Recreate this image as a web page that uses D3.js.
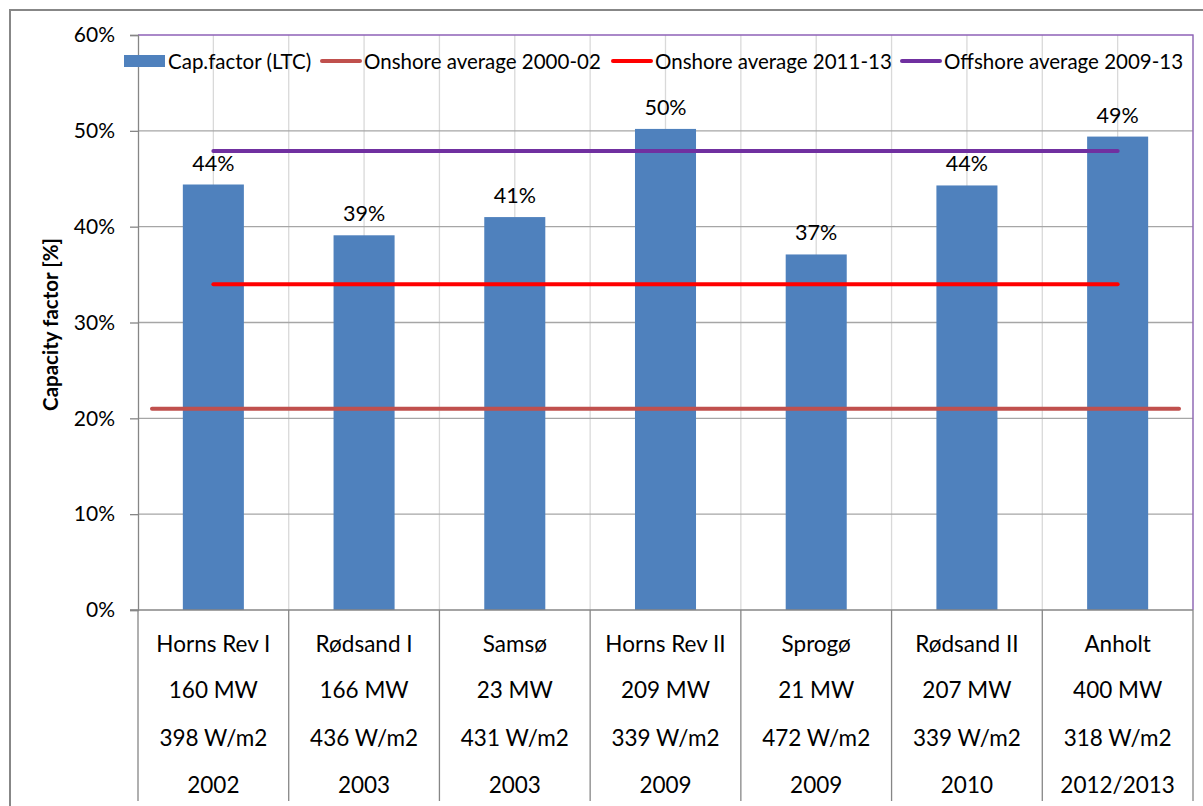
<!DOCTYPE html>
<html>
<head>
<meta charset="utf-8">
<script src="https://cdn.jsdelivr.net/npm/d3@7"></script>
<style>
  html, body { margin: 0; padding: 0; background: #ffffff; }
  svg { display: block; font-family: Lato, "Open Sans", sans-serif; }
</style>
</head>
<body>
<svg id="chart" width="1203" height="806"></svg>
<script>
// Danish offshore wind farms: long-term corrected capacity factor
const sites = ["Horns Rev I", "Rødsand I", "Samsø", "Horns Rev II", "Sprogø", "Rødsand II", "Anholt"];
const capacityLabels = ["160 MW", "166 MW", "23 MW", "209 MW", "21 MW", "207 MW", "400 MW"];
const densityLabels = ["398 W/m2", "436 W/m2", "431 W/m2", "339 W/m2", "472 W/m2", "339 W/m2", "318 W/m2"];
const yearLabels = ["2002", "2003", "2003", "2009", "2009", "2010", "2012/2013"];

const capFactor = [0.444, 0.391, 0.410, 0.502, 0.371, 0.443, 0.494];
const onshoreAvg2011 = [0.34, 0.34, 0.34, 0.34, 0.34, 0.34, 0.34];
const offshoreAvg2009 = [0.479, 0.479, 0.479, 0.479, 0.479, 0.479, 0.479];
const onshoreAvg2000 = [0.21, 0.21];   // drawn on the secondary (full-width) axis

const yTicks = [0, 0.1, 0.2, 0.3, 0.4, 0.5, 0.6];

const legendItems = [
  { name: "Cap.factor (LTC)", type: "bar", color: "#4f81bd" },
  { name: "Onshore average 2000-02", type: "line", color: "#c0504d" },
  { name: "Onshore average 2011-13", type: "line", color: "#ff0000" },
  { name: "Offshore average 2009-13", type: "line", color: "#7030a0" }
];

const svg = d3.select("#chart");
const plot = { left: 138, right: 1193, top: 35, bottom: 610 };

// outer chart frame
svg.append("rect")
  .attr("x", 10).attr("y", 10)
  .attr("width", 1210).attr("height", 810)
  .attr("fill", "#ffffff")
  .attr("stroke", "#878787").attr("stroke-width", 2);

const x = d3.scaleBand().domain(sites).range([plot.left, plot.right]).paddingInner(0.595).paddingOuter(0.2975);
const xFull = d3.scaleBand().domain(sites).range([plot.left, plot.right]).padding(0);
const x2 = d3.scaleLinear().domain([0, 1]).range([plot.left + 14, plot.right - 14]);
const y = d3.scaleLinear().domain([0, 0.6]).range([plot.bottom, plot.top]);

// vertical gridlines at category boundaries and centres
const vLines = [];
sites.forEach(s => {
  vLines.push(xFull(s));
  vLines.push(xFull(s) + xFull.bandwidth() / 2);
});
vLines.push(plot.right);
svg.append("g").selectAll("line").data(vLines.slice(1)).join("line")
  .attr("x1", d => d).attr("x2", d => d)
  .attr("y1", plot.top).attr("y2", plot.bottom)
  .attr("stroke", "#d9d9d9").attr("stroke-width", 1.3);

// horizontal gridlines
svg.append("g").selectAll("line").data(yTicks.filter(t => t > 0 && t < 0.6)).join("line")
  .attr("x1", plot.left).attr("x2", plot.right)
  .attr("y1", d => y(d)).attr("y2", d => y(d))
  .attr("stroke", "#a6a6a6").attr("stroke-width", 1.3);

// plot area border (top and right)
svg.append("path")
  .attr("d", `M${plot.left},${y(0.6)}H${plot.right}V${plot.bottom}`)
  .attr("fill", "none").attr("stroke", "#8e62b8").attr("stroke-width", 1.3);

// y axis
const yAxis = d3.axisLeft(y).tickValues(yTicks).tickFormat(d3.format(".0%")).tickSize(8).tickPadding(15);
const yg = svg.append("g").attr("transform", `translate(${plot.left},0)`).call(yAxis);
yg.select(".domain").attr("stroke", "#868686").attr("stroke-width", 1.3);
yg.selectAll(".tick line").attr("stroke", "#868686").attr("stroke-width", 1.3);
yg.selectAll(".tick text").attr("fill", "#000").style("font-size", "21px").style("font-family", "Lato");

svg.append("text")
  .attr("transform", `translate(58,${(plot.top + plot.bottom) / 2 + 2}) rotate(-90)`)
  .attr("text-anchor", "middle")
  .style("font-size", "20.5px").style("font-weight", "bold")
  .text("Capacity factor [%]");

// bars
svg.append("g").selectAll("rect").data(capFactor).join("rect")
  .attr("x", (d, i) => x(sites[i]))
  .attr("width", x.bandwidth())
  .attr("y", d => y(d))
  .attr("height", d => y(0) - y(d))
  .attr("fill", "#4f81bd");

// bar value labels
svg.append("g").selectAll("text").data(capFactor).join("text")
  .attr("x", (d, i) => x(sites[i]) + x.bandwidth() / 2)
  .attr("y", d => y(d) - 14)
  .attr("text-anchor", "middle")
  .style("font-size", "21.5px")
  .text(d => d3.format(".0%")(d));

// average lines
const centre = (d, i) => xFull(sites[i]) + xFull.bandwidth() / 2;
const line = d3.line().x(centre).y(d => y(d));
svg.append("path").datum(onshoreAvg2000)
  .attr("d", d3.line().x((d, i) => x2(i)).y(d => y(d)))
  .attr("fill", "none").attr("stroke", "#c0504d").attr("stroke-width", 4).attr("stroke-linecap", "round");
svg.append("path").datum(onshoreAvg2011)
  .attr("d", line)
  .attr("fill", "none").attr("stroke", "#ff0000").attr("stroke-width", 4).attr("stroke-linecap", "round");
svg.append("path").datum(offshoreAvg2009)
  .attr("d", line)
  .attr("fill", "none").attr("stroke", "#7030a0").attr("stroke-width", 4).attr("stroke-linecap", "round");

// x axis line and category table
svg.append("line")
  .attr("x1", plot.left - 8).attr("x2", plot.right)
  .attr("y1", plot.bottom).attr("y2", plot.bottom)
  .attr("stroke", "#868686").attr("stroke-width", 1.3);
const sepX = sites.map(s => xFull(s)).concat([plot.right]);
svg.append("g").selectAll("line").data(sepX).join("line")
  .attr("x1", d => d).attr("x2", d => d)
  .attr("y1", plot.bottom).attr("y2", 801)
  .attr("stroke", "#868686").attr("stroke-width", 1.3);

const rows = [sites, capacityLabels, densityLabels, yearLabels];
const rowBaselines = [652, 698, 746, 793];
rows.forEach((labels, r) => {
  svg.append("g").selectAll("text").data(labels).join("text")
    .attr("x", (d, i) => xFull(sites[i]) + xFull.bandwidth() / 2)
    .attr("y", rowBaselines[r])
    .attr("text-anchor", "middle")
    .style("font-size", "22.5px")
    .text(d => d);
});

// legend
const legendPos = [124, 320, 611, 900];
const lg = svg.append("g");
legendItems.forEach((item, i) => {
  const g = lg.append("g").attr("transform", `translate(${legendPos[i]},61)`);
  if (item.type === "bar") {
    g.append("rect").attr("x", 0).attr("y", -6).attr("width", 41).attr("height", 12).attr("fill", item.color);
  } else {
    g.append("line").attr("x1", 2).attr("x2", 40).attr("y1", 0).attr("y2", 0)
      .attr("stroke", item.color).attr("stroke-width", 4).attr("stroke-linecap", "round");
  }
  g.append("text").attr("x", 44).attr("y", 7.5).style("font-size", "20.5px").text(item.name);
});
</script>
</body>
</html>
